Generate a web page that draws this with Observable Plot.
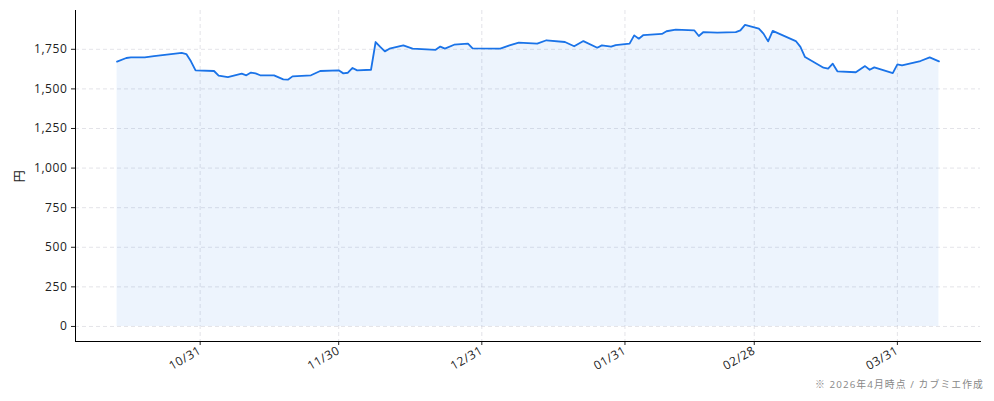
<!DOCTYPE html>
<html>
<head>
<meta charset="utf-8">
<script src="https://cdn.jsdelivr.net/npm/d3@7"></script>
<script src="https://cdn.jsdelivr.net/npm/@observablehq/plot@0.6"></script>
<style>
  html, body { margin: 0; padding: 0; background: #fff; }
  #chart { width: 994px; }
  .caption { width: 984px; text-align: right; font-family: "Open Sans", "Noto Sans CJK JP", sans-serif; font-size: 9.8px; color: #888; line-height: 12px; margin-top: -1px; letter-spacing: 1.1px; }
</style>
</head>
<body>
<div id="chart"></div>
<script>
const dates = ["2025-10-13","2025-10-15","2025-10-16","2025-10-19","2025-10-21","2025-10-27","2025-10-28","2025-10-29","2025-10-30",
  "2025-11-03","2025-11-04","2025-11-06","2025-11-09","2025-11-10","2025-11-11","2025-11-12","2025-11-13","2025-11-16","2025-11-18","2025-11-19","2025-11-20","2025-11-24","2025-11-26","2025-11-30",
  "2025-12-01","2025-12-02","2025-12-03","2025-12-04","2025-12-07","2025-12-08","2025-12-09","2025-12-10","2025-12-11","2025-12-14","2025-12-16","2025-12-21","2025-12-22","2025-12-23","2025-12-25","2025-12-28","2025-12-29",
  "2026-01-04","2026-01-06","2026-01-08","2026-01-12","2026-01-14","2026-01-18","2026-01-20","2026-01-22","2026-01-25","2026-01-26","2026-01-28","2026-01-29",
  "2026-02-01","2026-02-02","2026-02-03","2026-02-04","2026-02-08","2026-02-09","2026-02-11","2026-02-15","2026-02-16","2026-02-17","2026-02-20","2026-02-24","2026-02-25","2026-02-26",
  "2026-03-01","2026-03-02","2026-03-03","2026-03-04","2026-03-09","2026-03-10","2026-03-11","2026-03-15","2026-03-16","2026-03-17","2026-03-18","2026-03-22","2026-03-24","2026-03-25","2026-03-26","2026-03-30","2026-03-31",
  "2026-04-01","2026-04-05","2026-04-07","2026-04-09"];
const prices = [1672,1695,1699,1699,1707,1727,1720,1674,1617,
  1613,1584,1575,1596,1586,1603,1598,1586,1585,1560,1558,1579,1586,1613,1617,
  1598,1602,1632,1617,1621,1796,1765,1737,1754,1775,1754,1747,1767,1754,1779,1786,1756,
  1754,1775,1792,1786,1807,1796,1769,1802,1760,1775,1767,1777,
  1786,1838,1817,1840,1847,1864,1874,1870,1834,1859,1855,1859,1870,1904,
  1880,1849,1800,1866,1802,1765,1701,1634,1628,1659,1611,1605,1644,1621,1636,1600,1655,
  1649,1676,1699,1674];
const xTickLabels = ["2025-10-31","2025-11-30","2025-12-31","2026-01-31","2026-02-28","2026-03-31"];
const yTicks = [0,250,500,750,1000,1250,1500,1750];

const data = dates.map((d, i) => ({date: new Date(d), price: prices[i]}));
const xTicks = xTickLabels.map(d => new Date(d));

const font = "'Open Sans', 'Noto Sans CJK JP', sans-serif";
const plot = Plot.plot({
  width: 994,
  height: 380,
  marginTop: 10,
  marginBottom: 39,
  marginLeft: 75,
  marginRight: 14,
  style: {fontFamily: font, fontSize: "12px", color: "#222", background: "#fff", letterSpacing: "0.6px"},
  x: {type: "utc", domain: [new Date("2025-10-04"), new Date("2026-04-18")]},
  y: {domain: [-95, 1995]},
  marks: [
    Plot.gridX(xTicks, {stroke: "#d4d4dc", strokeOpacity: 0.65, strokeDasharray: "4,3"}),
    Plot.gridY(yTicks, {stroke: "#d4d4dc", strokeOpacity: 0.65, strokeDasharray: "4,3"}),
    Plot.areaY(data, {x: "date", y1: 0, y2: "price", fill: "#1a73e8", fillOpacity: 0.08}),
    Plot.lineY(data, {x: "date", y: "price", stroke: "#1a73e8", strokeWidth: 1.8}),
    Plot.axisY(yTicks, {tickFormat: d3.format(","), tickSize: 4, tickPadding: 4, label: "円", labelAnchor: "center", labelArrow: "none", labelOffset: 60, fontSize: 12}),
    Plot.axisX(xTicks, {tickFormat: d3.utcFormat("%m/%d"), tickRotate: -30, tickSize: 4, tickPadding: 4, label: null, fontSize: 12}),
    Plot.frame({anchor: "left", stroke: "#000"}),
    Plot.frame({anchor: "bottom", stroke: "#000"})
  ]
});
document.getElementById("chart").appendChild(plot);
const cap = document.createElement("div");
cap.className = "caption";
cap.textContent = "※ 2026年4月時点 / カブミエ作成";
document.getElementById("chart").appendChild(cap);
</script>
</body>
</html>
